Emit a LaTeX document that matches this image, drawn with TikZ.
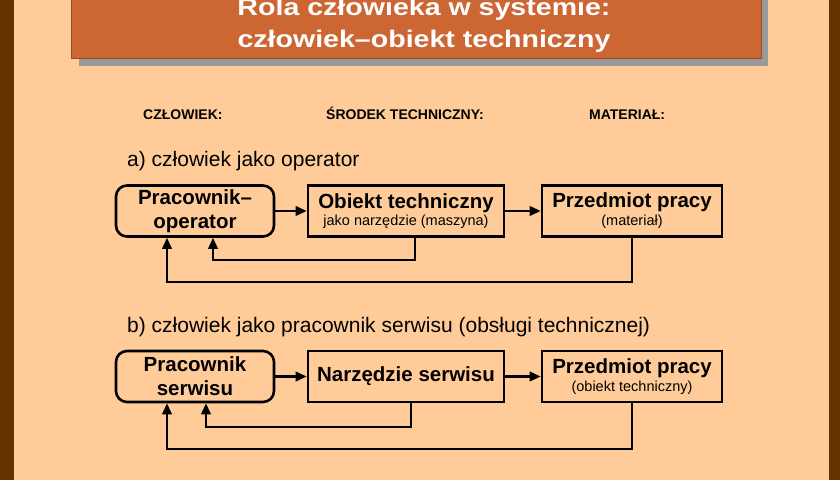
\documentclass[tikz,border=0pt]{standalone}
\usepackage{fontspec}
\usepackage{graphicx}
\setmainfont{Liberation Sans}
\usetikzlibrary{arrows.meta}
\definecolor{bgpeach}{HTML}{FFCC99}
\definecolor{stripbrown}{HTML}{663300}
\definecolor{titleorange}{HTML}{CC6633}
\definecolor{shadowgrey}{HTML}{999999}
\newcommand\subtxt[1]{{\fontsize{14.5}{17}\selectfont\mdseries #1}}
\begin{document}
\begin{tikzpicture}[x=1pt,y=-1pt,
  boxbase/.style={draw=black,line width=2.6pt,fill=bgpeach,align=center,inner sep=2pt,
    minimum height=51pt,font=\fontsize{20.5}{24}\selectfont\bfseries},
  worker/.style={boxbase,rounded corners=11pt,minimum width=158pt},
  toolbox/.style={boxbase,minimum width=196pt},
  matbox/.style={boxbase,minimum width=180pt},
  flow/.style={line width=2.2pt,-{Triangle[length=11pt,width=9.5pt]}},
  header/.style={anchor=base west,inner sep=0pt,font=\fontsize{14}{16}\selectfont\bfseries},
  caption/.style={anchor=base west,inner sep=0pt,font=\fontsize{21}{24}\selectfont},
  titletxt/.style={anchor=base,inner sep=0pt,text=white,font=\fontsize{24}{28}\selectfont\bfseries}]
\useasboundingbox (0,0) rectangle (840,480);
\clip (0,0) rectangle (840,480);
\fill[bgpeach] (0,0) rectangle (840,480);
\fill[stripbrown] (0,0) rectangle (14,480);
\fill[stripbrown] (829,0) rectangle (840,480);
% title
\fill[shadowgrey] (79,-10) rectangle (768,66);
\draw[titleorange!75!black,line width=0.8pt,fill=titleorange] (71,-10) rectangle (761,58);
\node[titletxt] (t1) at (424,15.5) {\scalebox{1.19}[1]{Rola człowieka w systemie:}};
\node[titletxt] (t2) at (424,47) {\scalebox{1.19}[1]{człowiek–obiekt techniczny}};
% headers
\node[header] (h1) at (143,119) {CZŁOWIEK:};
\node[header] (h2) at (326,119) {ŚRODEK TECHNICZNY:};
\node[header] (h3) at (589,119) {MATERIAŁ:};
% row a
\node[caption] (ca) at (127,166) {a) człowiek jako operator};
\node[worker] (wa) at (195,211) {Pracownik–\\operator};
\node[toolbox] (ta) at (406,211) {Obiekt techniczny\\[-6.5pt]\subtxt{jako narzędzie (maszyna)}};
\node[matbox] (ma) at (632,211) {Przedmiot pracy\\[-6pt]\subtxt{(materiał)}};
\draw[flow] (wa) -- (ta);
\draw[flow] (ta) -- (ma);
\coordinate (ia1) at (415,260);
\coordinate (ia2) at (213,260);
\draw[flow] (ta.south -| ia1) -- (ia1) -- (ia2) -- (wa.south -| ia2);
\coordinate (oa2) at (167,282);
\draw[flow] (ma.south) |- (oa2) -- (wa.south -| oa2);
% row b
\node[caption] (cb) at (127,332) {b) człowiek jako pracownik serwisu (obsługi technicznej)};
\node[worker] (wb) at (195,376.5) {Pracownik\\serwisu};
\node[toolbox] (tb) at (406,376.5) {Narzędzie serwisu};
\node[matbox] (mb) at (632,376.5) {Przedmiot pracy\\[-6pt]\subtxt{(obiekt techniczny)}};
\draw[flow] (wb) -- (tb);
\draw[flow] (tb) -- (mb);
\coordinate (ib1) at (411,427);
\coordinate (ib2) at (206,427);
\draw[flow] (tb.south -| ib1) -- (ib1) -- (ib2) -- (wb.south -| ib2);
\coordinate (ob2) at (167,449);
\draw[flow] (mb.south) |- (ob2) -- (wb.south -| ob2);
\end{tikzpicture}
\end{document}
